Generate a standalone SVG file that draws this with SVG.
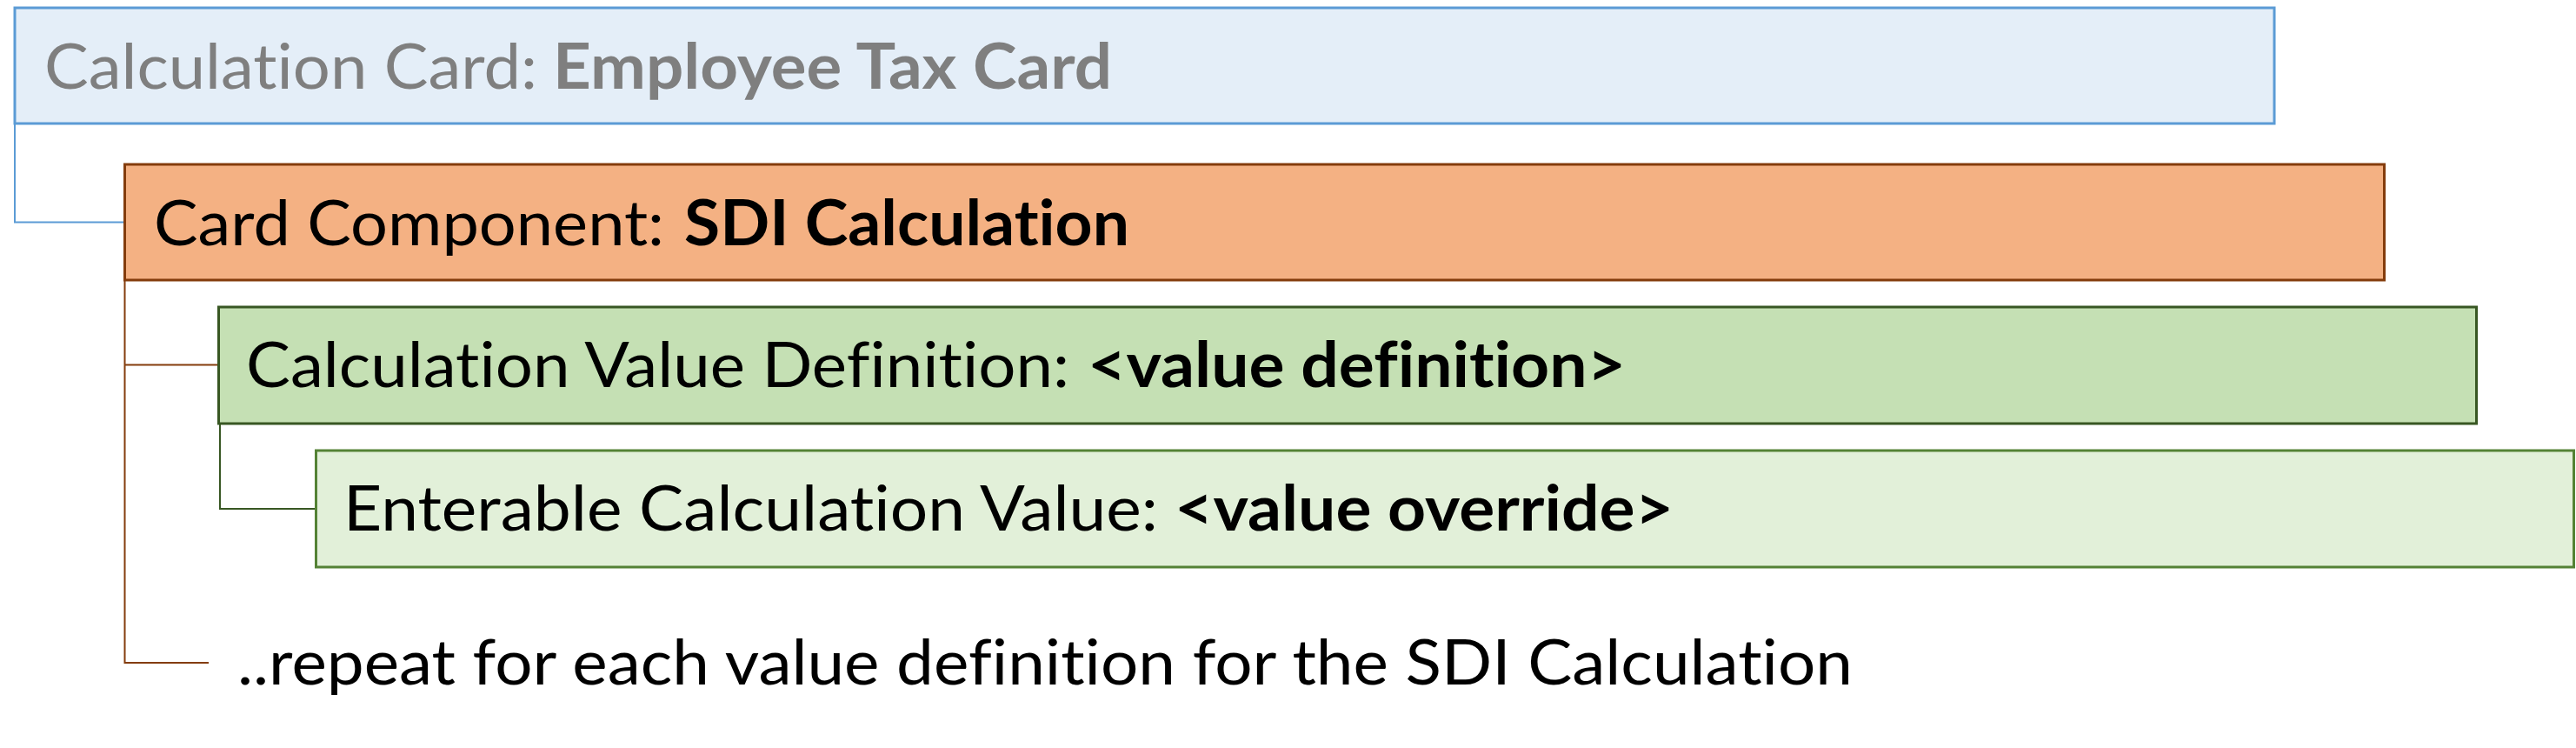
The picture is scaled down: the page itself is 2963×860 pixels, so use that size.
<svg xmlns="http://www.w3.org/2000/svg" width="2963" height="860" viewBox="0 0 2963 860">
<style>
.t{font-family:Lato,"Open Sans","Liberation Sans",sans-serif;font-size:72px;fill:#000;font-variant-ligatures:none;font-feature-settings:"liga" 0,"dlig" 0}
.b{font-weight:bold}
.g{fill:#7f7f7f}
.box{stroke-width:3}
.c{fill:none;stroke-width:2}
</style>
<rect width="2963" height="860" fill="#ffffff"/>
<g id="connectors">
<path class="c" d="M17,142 V255.5 H143" stroke="#5b9bd5"/>
<path class="c" d="M143.5,322 V762 H240" stroke="#843c0c"/>
<path class="c" d="M143.5,419.5 H251" stroke="#843c0c"/>
<path class="c" d="M253,487 V585 H363" stroke="#385723"/>
</g>
<g id="node-calculation-card">
<rect class="box" x="17" y="9" width="2599" height="133" fill="#e4eef8" stroke="#5b9bd5"/>
<text class="t g" x="51" y="102" textLength="567" lengthAdjust="spacingAndGlyphs">Calculation Card:</text>
<text class="t g b" x="636" y="102" textLength="643" lengthAdjust="spacingAndGlyphs">Employee Tax Card</text>
</g>
<g id="node-card-component">
<rect class="box" x="143.5" y="189" width="2599" height="133" fill="#f4b183" stroke="#843c0c"/>
<text class="t" x="177" y="282" textLength="587" lengthAdjust="spacingAndGlyphs">Card Component:</text>
<text class="t b" x="787" y="282" textLength="512" lengthAdjust="spacingAndGlyphs">SDI Calculation</text>
</g>
<g id="node-value-definition">
<rect class="box" x="251.5" y="353" width="2597" height="134" fill="#c5e0b4" stroke="#385723"/>
<text class="t" x="283" y="445" textLength="947" lengthAdjust="spacingAndGlyphs">Calculation Value Definition:</text>
<text class="t b" x="1251" y="445" textLength="619" lengthAdjust="spacingAndGlyphs">&lt;value definition&gt;</text>
</g>
<g id="node-value-override">
<rect class="box" x="363.5" y="518" width="2597" height="134" fill="#e2f0d9" stroke="#548235"/>
<text class="t" x="395" y="610" textLength="937" lengthAdjust="spacingAndGlyphs">Enterable Calculation Value:</text>
<text class="t b" x="1351" y="610" textLength="574" lengthAdjust="spacingAndGlyphs">&lt;value override&gt;</text>
</g>
<g id="node-repeat">
<text class="t" x="273" y="787" textLength="1858" lengthAdjust="spacingAndGlyphs">..repeat for each value definition for the SDI Calculation</text>
</g>
</svg>
